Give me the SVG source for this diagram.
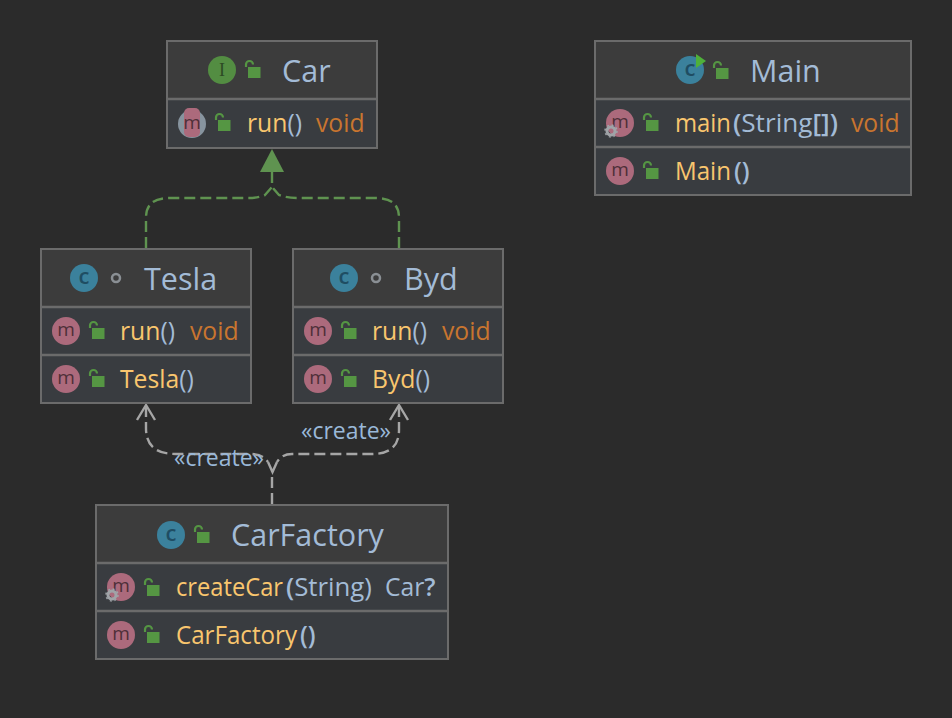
<svg xmlns="http://www.w3.org/2000/svg" width="952" height="718" viewBox="0 0 952 718">
<style>
text{font-family:"Open Sans","Noto Sans","Liberation Sans",sans-serif}
.head{fill:#3c3c3c}.row{fill:#393c40}
.box{fill:none;stroke:#6b6b6b;stroke-width:2}
.div{stroke:#6b6b6b;stroke-width:2.5}
.title{font-size:30.5px;fill:#a3bbd6}
.t{font-size:24.7px;fill:#a3bbd6}
.y{fill:#f9c66e}.o{fill:#c9752f}
.b{font-weight:600}
.lab{font-size:23px;fill:#9ab8d8}
.dg{fill:none;stroke:#5f9350;stroke-width:2.4;stroke-dasharray:11 5}
.dw{fill:none;stroke:#a6a6a6;stroke-width:2.4;stroke-dasharray:11 5}
.ow{fill:none;stroke:#a6a6a6;stroke-width:2.4}
.ml{font-size:19px;fill:#4e2f38;text-anchor:middle}
.cl{font-size:22px;font-weight:600;fill:#1f4d63;text-anchor:middle}
</style>
<defs>
<g id="lock"><rect x="-6" y="-4" width="12.500" height="11" fill="#559643"/><path d="M-8-4v-2.500a3.500 3.500 0 0 1 7 0" fill="none" stroke="#559643" stroke-width="2.200"/></g>
<g id="m"><circle r="14" fill="#ac6a7c"/><text class="ml" y="5">m</text></g>
<g id="c"><circle r="14" fill="#3b819c"/><text class="cl" y="6">c</text></g>
<g id="gear"><circle r="4" fill="none" stroke="#a0a4a8" stroke-width="3"/><circle r="6" fill="none" stroke="#a0a4a8" stroke-width="1.500" stroke-dasharray="2 2.700"/></g>
<g id="dot"><circle r="4" fill="none" stroke="#8a8f94" stroke-width="2.500"/></g>
</defs>
<rect width="952" height="718" fill="#2b2b2b"/>
<g id="connectors">
<path class="dg" d="M146 248V218C146 204 154 198 170 198H248C258 198 262 196 265 195L272 187"/>
<path class="dg" d="M399 248V218C399 204 391 198 375 198H297C287 198 282 196 279 195L272 187"/>
<path class="dg" d="M272 183V172"/>
<path d="M272 149L284 172H260Z" fill="#5f9350"/>
<path class="dw" d="M272 504V476"/>
<path class="dw" d="M146 406V428C146 446 156 454 176 454H250C258 454 264 456 268 462"/>
<path class="dw" d="M399 406V430C399 446 390 454 372 454H292C285 454 280 457 277 462"/>
<path class="ow" d="M137 420L146 405L155 420M268 462L272.500 472L277 462"/>
<path class="ow" d="M390 420L399 405L408 420"/>
<text class="lab" x="174" y="466">«create»</text>
<text class="lab" x="301" y="439">«create»</text>
</g>
<g id="Car">
<rect class="head" x="167" y="41" width="210" height="58"/><rect class="row" x="167" y="99" width="210" height="49"/>
<rect class="box" x="167" y="41" width="210" height="107"/><line class="div" x1="167" x2="377" y1="99" y2="99"/>
<circle cx="222" cy="70" r="14" fill="#538d42"/><text x="222" y="76" font-size="18" fill="#2c4a24" text-anchor="middle" style="font-family:'Liberation Serif',serif">I</text>
<use href="#lock" x="254" y="71"/><text class="title" x="282" y="82">Car</text>
<circle cx="192" cy="124" r="14" fill="#87949f"/><rect x="184" y="108" width="16" height="29" rx="5" fill="#ac6a7c"/><text class="ml" x="192" y="129">m</text>
<use href="#lock" x="224" y="124"/><text class="t" x="247" y="132"><tspan class="y">run</tspan>()</text><text class="t o" x="316" y="132">void</text>
</g>
<g id="Main">
<rect class="head" x="595" y="41" width="316" height="58"/><rect class="row" x="595" y="99" width="316" height="96"/>
<rect class="box" x="595" y="41" width="316" height="154"/><line class="div" x1="595" x2="911" y1="99" y2="99"/><line class="div" x1="595" x2="911" y1="147" y2="147"/>
<use href="#c" x="690" y="70"/><path d="M696 54L706 61L696 68Z" fill="#4fb03a"/>
<use href="#lock" x="722" y="72"/><text class="title" x="750" y="82">Main</text>
<use href="#m" x="620" y="123"/><use href="#gear" x="611" y="131"/><use href="#lock" x="652" y="124"/>
<text class="t y" x="675" y="132" textLength="56" lengthAdjust="spacingAndGlyphs">main</text><text class="t" x="733" y="132" textLength="105" lengthAdjust="spacingAndGlyphs"><tspan class="b">(</tspan>String<tspan class="b">[])</tspan></text><text class="t o" x="851" y="132">void</text>
<use href="#m" x="620" y="171"/><use href="#lock" x="652" y="172"/><text class="t y" x="675" y="180" textLength="56" lengthAdjust="spacingAndGlyphs">Main</text><text class="t b" x="734" y="180">()</text>
</g>
<g id="Tesla">
<rect class="head" x="41" y="249" width="210" height="58"/><rect class="row" x="41" y="307" width="210" height="96"/>
<rect class="box" x="41" y="249" width="210" height="154"/><line class="div" x1="41" x2="251" y1="307" y2="307"/><line class="div" x1="41" x2="251" y1="355" y2="355"/>
<use href="#c" x="84" y="278"/><use href="#dot" x="116" y="278"/><text class="title" x="144" y="290">Tesla</text>
<use href="#m" x="66" y="331"/><use href="#lock" x="98" y="332"/><text class="t" x="120" y="340"><tspan class="y">run</tspan>()</text><text class="t o" x="190" y="340">void</text>
<use href="#m" x="66" y="379"/><use href="#lock" x="98" y="380"/><text class="t" x="120" y="388"><tspan class="y">Tesla</tspan>()</text>
</g>
<g id="Byd">
<rect class="head" x="293" y="249" width="210" height="58"/><rect class="row" x="293" y="307" width="210" height="96"/>
<rect class="box" x="293" y="249" width="210" height="154"/><line class="div" x1="293" x2="503" y1="307" y2="307"/><line class="div" x1="293" x2="503" y1="355" y2="355"/>
<use href="#c" x="344" y="278"/><use href="#dot" x="376" y="278"/><text class="title" x="404" y="290">Byd</text>
<use href="#m" x="318" y="331"/><use href="#lock" x="350" y="332"/><text class="t" x="372" y="340"><tspan class="y">run</tspan>()</text><text class="t o" x="442" y="340">void</text>
<use href="#m" x="318" y="379"/><use href="#lock" x="350" y="380"/><text class="t" x="372" y="388"><tspan class="y">Byd</tspan>()</text>
</g>
<g id="CarFactory">
<rect class="head" x="96" y="505" width="352" height="58"/><rect class="row" x="96" y="563" width="352" height="96"/>
<rect class="box" x="96" y="505" width="352" height="154"/><line class="div" x1="96" x2="448" y1="563" y2="563"/><line class="div" x1="96" x2="448" y1="611" y2="611"/>
<use href="#c" x="171" y="535"/><use href="#lock" x="203" y="536"/><text class="title" x="231" y="546">CarFactory</text>
<use href="#m" x="121" y="587"/><use href="#gear" x="112" y="595"/><use href="#lock" x="153" y="589"/>
<text class="t y" x="176" y="596" textLength="107" lengthAdjust="spacingAndGlyphs">createCar</text><text class="t" x="286" y="596" textLength="86" lengthAdjust="spacingAndGlyphs"><tspan class="b">(</tspan>String)</text><text class="t" x="385" y="596">Car<tspan class="b">?</tspan></text>
<use href="#m" x="121" y="635"/><use href="#lock" x="153" y="636"/><text class="t y" x="176" y="644" textLength="121" lengthAdjust="spacingAndGlyphs">CarFactory</text><text class="t b" x="300" y="644">()</text>
</g>
</svg>
